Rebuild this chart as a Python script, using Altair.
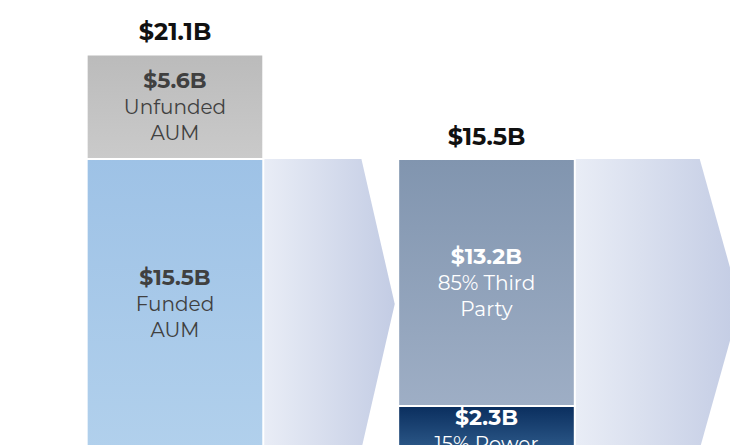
import altair as alt
import pandas as pd

# ---------------- data ----------------
stage_idx = [0, 1]
stage_totals = [21.1, 15.5]
total_labels = ["$21.1B", "$15.5B"]

seg_stage = [0, 0, 1, 1]
seg_names = ["Funded AUM", "Unfunded AUM", "Power AUM", "Third Party AUM"]
seg_values = [15.5, 5.6, 2.3, 13.2]
seg_value_labels = ["$15.5B", "$5.6B", "$2.3B", "$13.2B"]
seg_desc = ["Funded\nAUM", "Unfunded\nAUM", "15% Power\nAUM", "85% Third\nParty"]

arrow_from_stage = [0, 1]
arrow_height = [15.5, 15.5]

# ---------------- styles ----------------
FONT = "Montserrat, Open Sans, sans-serif"
HALF_W = 0.2835
ARROW_FLAT = [0.315, 0.401]
ARROW_TIP = [0.107, 0.13]
seg_grad = {
    "Funded AUM": ("#9ec2e6", "#b1d0ec"),
    "Unfunded AUM": ("#bbbbbb", "#cacaca"),
    "Power AUM": ("#0a2e5e", "#2c5888"),
    "Third Party AUM": ("#8195af", "#9eaec5"),
}
seg_text = {
    "Funded AUM": "#404040",
    "Unfunded AUM": "#404040",
    "Power AUM": "#ffffff",
    "Third Party AUM": "#ffffff",
}

# ---------------- tables ----------------
rows = []
cum = {}
for s, n, v, vl, d in zip(seg_stage, seg_names, seg_values, seg_value_labels, seg_desc):
    lo = cum.get(s, 0.0)
    hi = lo + v
    cum[s] = hi
    rows.append(dict(stage=s, name=n, lo=lo, hi=hi, vlabel=vl, desc=d, tcolor=seg_text[n]))
segs = pd.DataFrame(rows)
segs["x0"] = segs["stage"] - HALF_W
segs["x1"] = segs["stage"] + HALF_W
segs["ly"] = [min((r.lo + r.hi) / 2 + 1.39, r.hi - 0.64) for r in segs.itertuples()]

totals = pd.DataFrame(dict(stage=stage_idx, total=stage_totals, label=total_labels))

arrow_tables = []
for i, (s, h) in enumerate(zip(arrow_from_stage, arrow_height)):
    x0 = s + HALF_W
    xf = x0 + ARROW_FLAT[i]
    xt = xf + ARROW_TIP[i]
    arrow_tables.append(pd.DataFrame([
        dict(x=x0, y=0.0, y2=h),
        dict(x=xf, y=0.0, y2=h),
        dict(x=xt, y=h / 2, y2=h / 2),
    ]))

xs = alt.Scale(domain=[-0.536, 1.7817], nice=False, zero=False)
ys = alt.Scale(domain=[0.214, 23.58], nice=False, zero=False)
noax = None


def vgrad(c0, c1):
    return alt.Gradient(
        gradient="linear",
        stops=[alt.GradientStop(color=c0, offset=0), alt.GradientStop(color=c1, offset=1)],
        x1=0, x2=0, y1=0, y2=1,
    )


hgrad = alt.Gradient(
    gradient="linear",
    stops=[alt.GradientStop(color="#e9edf6", offset=0), alt.GradientStop(color="#c3cce4", offset=1)],
    x1=0, x2=1, y1=0, y2=0,
)

layers = []
for t in arrow_tables:
    layers.append(
        alt.Chart(t).mark_area(clip=True, orient="vertical", color=hgrad).encode(
            x=alt.X("x:Q", scale=xs, axis=noax),
            y=alt.Y("y:Q", scale=ys, axis=noax, stack=None),
            y2="y2:Q",
        )
    )

base = alt.Chart(segs)
for n in seg_names:
    c0, c1 = seg_grad[n]
    layers.append(
        base.transform_filter(alt.datum.name == n)
        .mark_bar(clip=True, color=vgrad(c0, c1), stroke="white", strokeWidth=2)
        .encode(
            x=alt.X("x0:Q", scale=xs, axis=noax),
            x2="x1:Q",
            y=alt.Y("lo:Q", scale=ys, axis=noax),
            y2="hi:Q",
        )
    )

value_text = base.mark_text(font=FONT, fontSize=22, fontWeight="bold", baseline="middle").encode(
    x=alt.X("stage:Q", scale=xs, axis=noax),
    y=alt.Y("ly:Q", scale=ys, axis=noax),
    text="vlabel:N",
    color=alt.Color("tcolor:N", scale=None),
)
desc_text = base.mark_text(
    font=FONT, fontSize=20, baseline="middle", lineBreak="\n", lineHeight=26, dy=27
).encode(
    x=alt.X("stage:Q", scale=xs, axis=noax),
    y=alt.Y("ly:Q", scale=ys, axis=noax),
    text="desc:N",
    color=alt.Color("tcolor:N", scale=None),
)
total_text = alt.Chart(totals).mark_text(
    font=FONT, fontSize=24, fontWeight="bold", baseline="alphabetic", dy=-14, color="#111111"
).encode(
    x=alt.X("stage:Q", scale=xs, axis=noax),
    y=alt.Y("total:Q", scale=ys, axis=noax),
    text="label:N",
)

layers += [value_text, desc_text, total_text]

chart = (
    alt.layer(*layers)
    .properties(width=722, height=437, padding=0, autosize=alt.AutoSizeParams(type="none"))
    .configure_view(stroke=None)
)

chart.save("out.html", embed_options={"renderer": "svg", "actions": False})
